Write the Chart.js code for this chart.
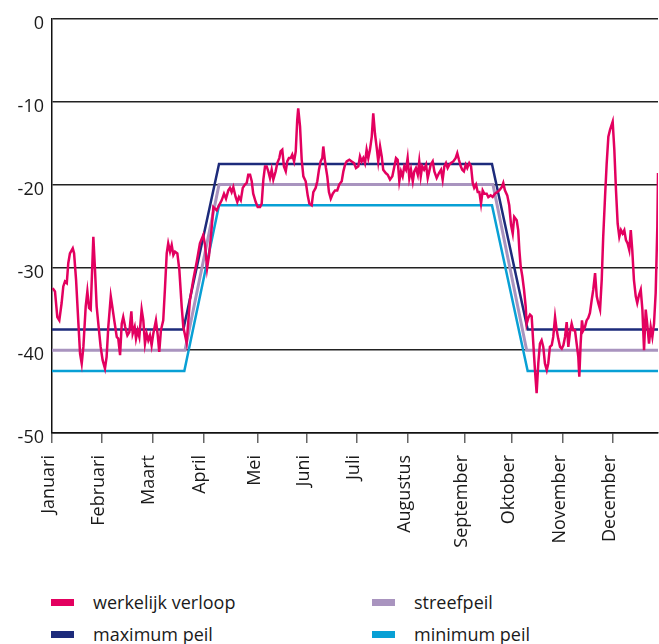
<!DOCTYPE html>
<html>
<head>
<meta charset="utf-8">
<script src="https://cdn.jsdelivr.net/npm/chart.js@4.4.0/dist/chart.umd.min.js"></script>
<style>
    body { margin: 0; background: #fff; font-family: "Open Sans", sans-serif; color: #1a1a1a; }
    #wrap { position: relative; width: 659px; height: 644px; overflow: hidden; }
    .item { position: absolute; font-size: 18px; line-height: 20px; white-space: nowrap; }
    .item i { position: absolute; left: -42px; top: 7px; width: 23px; height: 7px; }
</style>
</head>
<body>
<div id="wrap">
    <canvas id="myChart" width="659" height="570"></canvas>
    <div id="legend"></div>
</div>
<script>
// Month ticks (day of year where the label sits)
const months = ['Januari', 'Februari', 'Maart', 'April', 'Mei', 'Juni', 'Juli', 'Augustus', 'September', 'Oktober', 'November', 'December'];
const monthDays = [0, 29.9, 60.4, 91.1, 123.9, 153.4, 183.5, 214.1, 248.6, 276.8, 307.8, 337.6];
const yTicks = [0, -10, -20, -30, -40, -50];

// werkelijk verloop
const actualDays = [
    0.4, 1.8, 3.2, 4.4, 5.8, 6.8, 7.8, 8.9, 9.8, 10.8, 12.5, 13.3, 14.5, 15.8, 16.9, 17.9, 18.9, 20.3, 21.3, 22.3,
    23.3, 24.9, 25.9, 26.9, 28.3, 29.3, 30.5, 31.9, 32.9, 33.9, 35.4, 36.3, 37.5, 39.0, 39.9, 41.0, 42.0, 42.9, 44.1, 45.4,
    46.6, 47.8, 48.6, 49.8, 50.6, 51.6, 52.6, 54.0, 55.0, 56.0, 57.0, 58.0, 59.0, 60.0, 61.0, 62.6, 63.7, 64.6, 65.6, 67.0,
    68.1, 69.1, 70.0, 71.1, 72.1, 73.1, 74.1, 75.5, 76.7, 78.1, 79.1, 81.1, 83.1, 85.1, 87.2, 89.1, 91.1, 92.2, 93.4, 94.6,
    95.8, 97.2, 99.2, 100.6, 102.2, 103.6, 104.8, 106.2, 107.2, 108.2, 109.2, 110.6, 111.6, 112.6, 113.7, 114.9, 116.2, 117.3, 118.2, 119.3,
    120.3, 121.2, 122.7, 123.9, 125.3, 126.3, 127.3, 128.3, 129.3, 130.3, 131.3, 132.3, 133.3, 134.7, 135.7, 136.9, 137.7, 138.7, 139.7, 140.8,
    141.7, 142.7, 143.8, 144.7, 145.8, 146.8, 147.7, 148.3, 149.4, 150.4, 151.4, 152.8, 154.0, 155.0, 156.4, 157.4, 158.8, 159.8, 160.8, 161.8,
    162.8, 163.4, 164.2, 165.0, 165.8, 166.8, 167.9, 169.1, 170.5, 171.8, 173.0, 174.5, 175.5, 176.5, 177.5, 179.1, 180.5, 181.9, 183.1, 184.5,
    185.5, 186.5, 187.5, 188.5, 189.5, 190.5, 191.5, 192.6, 193.5, 194.5, 195.6, 196.5, 197.6, 198.6, 199.5, 201.0, 202.2, 203.6, 205.0, 206.2,
    207.2, 208.2, 209.2, 210.2, 211.2, 212.2, 213.2, 214.2, 215.2, 216.2, 217.3, 218.2, 219.2, 220.3, 221.2, 222.1, 223.0, 224.1, 225.3, 226.3,
    227.2, 228.1, 229.3, 230.3, 231.7, 233.1, 234.3, 235.3, 236.3, 237.3, 238.3, 239.3, 240.3, 241.7, 243.1, 244.1, 245.1, 246.2, 247.1, 248.1,
    249.2, 250.1, 251.3, 252.4, 253.4, 254.3, 255.4, 256.4, 257.4, 258.4, 259.4, 260.4, 261.8, 262.8, 264.2, 265.4, 266.8, 268.2, 269.4, 270.9,
    271.8, 272.8, 274.2, 275.4, 276.5, 277.5, 278.4, 279.9, 280.8, 281.5, 282.3, 283.3, 284.3, 285.3, 285.9, 286.9, 287.9, 288.9, 289.9, 290.9,
    291.9, 292.9, 293.9, 294.9, 295.9, 296.9, 298.0, 298.9, 299.9, 301.0, 301.9, 303.0, 304.0, 304.9, 306.0, 307.0, 308.0, 309.0, 310.0, 311.0,
    312.0, 313.0, 314.0, 315.0, 316.0, 317.0, 317.6, 318.4, 319.2, 320.0, 321.0, 322.0, 323.0, 324.0, 325.1, 326.0, 327.1, 328.1, 329.0, 330.1,
    331.1, 332.0, 333.1, 334.1, 335.1, 336.1, 337.7, 338.7, 339.7, 340.7, 341.7, 342.7, 343.7, 344.7, 345.7, 346.7, 347.7, 348.6, 349.5, 350.5,
    351.6, 352.5, 353.6, 354.6, 355.6, 356.6, 357.6, 358.5, 359.6, 360.6, 361.6, 362.6, 363.6, 364.6, 365.0
];
const actualValues = [
    -32.5, -32.9, -36.0, -36.4, -34.3, -32.3, -31.7, -31.9, -29.5, -28.3, -27.7, -28.3, -31.5, -36.4, -40.4, -41.6, -39.6, -34.7, -32.9, -34.9,
    -35.1, -26.3, -30.3, -34.7, -37.6, -39.6, -41.2, -42.2, -40.8, -37.2, -33.5, -34.7, -36.4, -38.4, -38.6, -40.6, -36.8, -36.0, -37.2, -38.2,
    -37.8, -35.3, -38.0, -37.2, -38.6, -37.6, -38.4, -35.1, -36.4, -39.2, -38.0, -38.8, -38.2, -39.4, -38.0, -36.4, -38.2, -40.2, -37.6, -36.4,
    -32.3, -28.3, -27.1, -28.1, -27.3, -28.5, -28.1, -28.3, -30.3, -34.7, -37.2, -39.1, -33.9, -31.5, -29.3, -27.1, -26.1, -27.3, -30.1, -28.5,
    -26.1, -22.7, -23.1, -22.5, -21.9, -21.1, -21.7, -20.7, -20.4, -20.9, -20.3, -21.5, -22.1, -21.5, -21.9, -20.4, -20.0, -19.8, -18.8, -18.8,
    -19.6, -21.1, -22.1, -22.7, -22.7, -22.3, -19.4, -17.8, -17.8, -18.4, -19.2, -18.2, -19.4, -18.4, -17.4, -16.8, -16.0, -15.8, -17.8, -18.4,
    -17.2, -16.8, -16.8, -16.4, -17.2, -16.0, -12.2, -10.8, -13.0, -17.0, -19.0, -19.6, -21.3, -22.3, -22.5, -20.9, -20.4, -19.6, -18.2, -17.2,
    -16.8, -15.4, -16.8, -18.0, -19.0, -20.9, -21.7, -21.1, -20.7, -20.7, -20.0, -19.6, -18.4, -17.6, -17.2, -17.0, -17.2, -17.4, -18.0, -17.8,
    -16.6, -17.2, -16.8, -17.4, -15.8, -16.8, -15.8, -14.2, -11.4, -13.8, -15.6, -17.2, -15.4, -16.6, -18.2, -18.6, -18.8, -19.4, -19.0, -17.8,
    -16.8, -17.0, -19.6, -18.4, -19.0, -17.8, -18.2, -16.8, -19.2, -18.2, -19.6, -18.4, -18.0, -18.8, -17.2, -19.0, -17.8, -18.2, -17.6, -19.2,
    -18.4, -17.6, -17.2, -18.4, -19.2, -18.6, -18.2, -19.4, -17.8, -17.4, -18.0, -17.6, -17.4, -17.2, -16.8, -16.2, -17.0, -17.8, -18.2, -18.4,
    -17.6, -18.0, -17.4, -17.8, -19.8, -20.4, -20.0, -20.9, -20.9, -22.3, -20.7, -21.1, -21.1, -21.5, -21.3, -21.5, -21.1, -20.9, -20.7, -20.3,
    -19.8, -20.7, -21.3, -22.5, -24.9, -25.9, -23.9, -24.3, -25.5, -27.9, -29.9, -31.1, -32.7, -34.7, -36.8, -36.1, -35.7, -35.9, -39.2, -42.4,
    -45.2, -41.6, -39.2, -38.8, -39.6, -41.6, -42.4, -41.6, -39.6, -39.4, -38.4, -36.0, -37.6, -38.6, -39.6, -39.8, -39.4, -38.4, -36.6, -39.6,
    -37.8, -36.8, -37.6, -37.6, -39.2, -40.8, -43.2, -39.2, -36.4, -37.6, -37.2, -36.4, -36.1, -35.5, -33.9, -32.7, -30.7, -33.5, -34.3, -35.1,
    -31.5, -26.3, -21.5, -17.4, -14.2, -13.4, -12.4, -15.8, -20.7, -24.7, -26.3, -25.5, -25.9, -25.5, -26.7, -27.1, -27.9, -25.5, -27.9, -31.5,
    -33.5, -34.3, -33.3, -32.7, -35.1, -40.0, -35.1, -36.8, -39.2, -37.2, -38.4, -36.8, -33.1, -25.1, -18.6
];

// maximum peil
const maxDays = [0, 79.1, 100.6, 265.0, 286.5, 365];
const maxValues = [-37.5, -37.5, -17.5, -17.5, -37.5, -37.5];
// streefpeil
const targetDays = [0, 80.1, 100.6, 265.6, 285.9, 365];
const targetValues = [-40, -40, -20, -20, -40, -40];
// minimum peil
const minDays = [0, 79.7, 100.6, 265.0, 286.5, 365];
const minValues = [-42.5, -42.5, -22.5, -22.5, -42.5, -42.5];

const toPoints = (xs, ys) => xs.map((x, i) => ({ x: x, y: ys[i] }));

const series = [
    { label: 'werkelijk verloop', color: '#e3005f', width: 2.5, data: toPoints(actualDays, actualValues) },
    { label: 'streefpeil', color: '#a994bf', width: 3, data: toPoints(targetDays, targetValues) },
    { label: 'maximum peil', color: '#1d2b7b', width: 2.5, data: toPoints(maxDays, maxValues) },
    { label: 'minimum peil', color: '#08a0d5', width: 2.5, data: toPoints(minDays, minValues) },
];

const font = { family: '"Open Sans", sans-serif', size: 18 };
const ctx = document.getElementById('myChart').getContext('2d');

new Chart(ctx, {
    type: 'line',
    data: {
        datasets: series.map((s) => ({
            label: s.label,
            data: s.data,
            borderColor: s.color,
            backgroundColor: s.color,
            borderWidth: s.width,
            pointRadius: 0,
            tension: 0,
            fill: false,
        }))
    },
    options: {
        responsive: false,
        animation: false,
        layout: { padding: { top: 19, right: 1, left: 0, bottom: 0 } },
        plugins: {
            legend: { display: false },
            tooltip: { enabled: false },
        },
        scales: {
            x: {
                type: 'linear',
                min: 0,
                max: 365,
                afterBuildTicks: (scale) => {
                    scale.ticks = monthDays.map((d) => ({ value: d }));
                },
                afterFit: (scale) => { scale.height = 570 - 433; },
                ticks: {
                    autoSkip: false,
                    minRotation: 90,
                    maxRotation: 90,
                    padding: 12,
                    labelOffset: -3,
                    color: '#1a1a1a',
                    font: font,
                    callback: (value, index) => months[index],
                },
                grid: {
                    drawOnChartArea: false,
                    drawTicks: true,
                    tickLength: 10,
                    color: '#666',
                    lineWidth: 1.5,
                },
                border: { display: true, color: '#111', width: 1.5 },
            },
            y: {
                type: 'linear',
                min: -50,
                max: 0,
                afterBuildTicks: (scale) => {
                    scale.ticks = yTicks.map((v) => ({ value: v }));
                },
                afterFit: (scale) => { scale.width = 52; },
                ticks: {
                    padding: 8,
                    labelOffset: 5,
                    color: '#1a1a1a',
                    font: font,
                    callback: (value) => String(value),
                },
                grid: {
                    drawTicks: false,
                    color: '#222',
                    lineWidth: 1.5,
                },
                border: { display: true, color: '#111', width: 1.5 },
            },
        },
    },
});

// Two-column legend below the chart
const legendPos = [[93, 592], [414, 592], [93, 624], [414, 624]];
document.getElementById('legend').innerHTML = series.map((s, i) =>
    `<div class="item" style="left:${legendPos[i][0]}px;top:${legendPos[i][1]}px"><i style="background:${s.color}"></i>${s.label}</div>`
).join('');
</script>
</body>
</html>
